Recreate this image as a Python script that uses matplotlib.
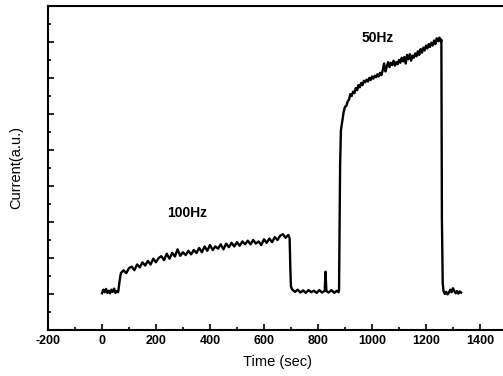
import matplotlib
matplotlib.use("Agg")
import matplotlib.pyplot as plt
from matplotlib.ticker import MultipleLocator

plt.rcParams["font.family"] = ["Liberation Sans", "DejaVu Sans"]
plt.rcParams["axes.unicode_minus"] = False

# time (sec) and current (a.u.)
time = [0, 5, 10, 15, 20, 25, 30, 35, 40, 45, 50, 55, 60,
        65, 70, 80, 90, 100, 110, 120, 130, 140, 150, 160, 170, 180, 190,
        200, 210, 220, 230, 240, 250, 260, 270, 280, 290, 300, 310, 320,
        330, 340, 350, 360, 370, 380, 390, 400, 410, 420, 430, 440, 450,
        460, 470, 480, 490, 500, 510, 520, 530, 540, 550, 560, 570, 580,
        590, 600, 610, 620, 630, 640, 650, 660, 670, 680, 690, 695,
        698, 700, 705, 715, 725, 735, 745, 755, 765, 775, 785, 795, 805,
        815, 825, 828, 831, 840, 850, 860, 870, 876,
        878, 880, 882, 885, 890, 895, 900, 905, 910, 915, 920, 925, 930,
        935, 940, 945, 950, 955, 960, 965, 970, 975, 980, 985, 990, 995,
        1000, 1005, 1010, 1015, 1020, 1025, 1030, 1035, 1040, 1045, 1050,
        1055, 1060, 1065, 1070, 1075, 1080, 1085, 1090, 1095, 1100, 1105,
        1110, 1115, 1120, 1125, 1130, 1135, 1140, 1145, 1150, 1155, 1160,
        1165, 1170, 1175, 1180, 1185, 1190, 1195, 1200, 1205, 1210, 1215,
        1220, 1225, 1230, 1235, 1240, 1245, 1250, 1255, 1257,
        1259, 1262, 1265, 1270, 1275, 1280, 1285, 1290, 1295, 1300, 1305,
        1310, 1315, 1320, 1325, 1330]
current = [1.02, 1.12, 1.05, 1.14, 1.03, 1.09, 1.02, 1.12, 1.06, 1.15, 1.03, 1.08, 1.05,
           1.35, 1.58, 1.66, 1.58, 1.72, 1.76, 1.66, 1.82, 1.74, 1.88, 1.79, 1.92, 1.82, 1.98,
           1.88, 2.00, 2.05, 1.94, 2.12, 1.98, 2.14, 2.04, 2.24, 2.06, 2.16, 2.08, 2.20,
           2.10, 2.22, 2.14, 2.28, 2.16, 2.32, 2.20, 2.36, 2.22, 2.32, 2.26, 2.38, 2.24,
           2.40, 2.30, 2.42, 2.32, 2.44, 2.34, 2.46, 2.38, 2.48, 2.38, 2.50, 2.40, 2.46,
           2.36, 2.52, 2.42, 2.54, 2.44, 2.58, 2.50, 2.62, 2.66, 2.56, 2.64, 2.55,
           1.60, 1.20, 1.12, 1.06, 1.12, 1.04, 1.10, 1.03, 1.11, 1.05, 1.09, 1.03, 1.11,
           1.04, 1.09, 1.62, 1.08, 1.04, 1.11, 1.03, 1.09, 1.05,
           1.10, 2.70, 4.60, 5.55, 5.80, 6.05, 6.20, 6.22, 6.35, 6.40, 6.55, 6.50, 6.62,
           6.58, 6.72, 6.66, 6.80, 6.74, 6.86, 6.80, 6.92, 6.88, 6.95, 6.90, 7.00, 6.94,
           7.04, 6.98, 7.06, 7.02, 7.10, 7.04, 7.14, 7.08, 7.22, 7.40, 7.18,
           7.32, 7.44, 7.30, 7.42, 7.36, 7.48, 7.34, 7.44, 7.38, 7.50, 7.42,
           7.56, 7.46, 7.58, 7.40, 7.64, 7.52, 7.66, 7.48, 7.62, 7.56, 7.68,
           7.60, 7.74, 7.64, 7.80, 7.70, 7.84, 7.76, 7.90, 7.82, 7.94, 7.86,
           7.98, 7.90, 8.04, 7.94, 8.10, 8.02, 8.12, 8.00, 8.06,
           3.10, 1.30, 1.08, 1.00, 1.06, 0.99, 1.04, 1.12, 1.05, 1.16, 1.08,
           1.02, 1.08, 1.01, 1.07, 1.04]

xticks = [-200, 0, 200, 400, 600, 800, 1000, 1200, 1400]

fig = plt.figure(figsize=(5.03, 3.76), dpi=100)
ax = fig.add_axes([0.0954, 0.1223, 0.9125, 0.862])
ax.plot(time, current, color="black", linewidth=1.7)

ax.set_xlim(-200, 1500)
ax.set_ylim(0, 9)
ax.set_xticks(xticks)
ax.xaxis.set_minor_locator(MultipleLocator(100))
ax.yaxis.set_major_locator(MultipleLocator(1))
ax.yaxis.set_minor_locator(MultipleLocator(0.5))
ax.set_yticklabels([])
ax.tick_params(which="both", direction="in", top=False, right=False, width=1.2)
ax.tick_params(which="major", length=4, labelsize=9)
ax.tick_params(which="minor", length=2)
for lab in ax.get_xticklabels():
    lab.set_fontweight("bold")
for s in ax.spines.values():
    s.set_linewidth(1.5)

ax.text(315, 3.26, "100Hz", ha="center", va="center", fontsize=10, fontweight="bold")
ax.text(1023, 8.12, "50Hz", ha="center", va="center", fontsize=10, fontweight="bold")

ax.set_xlabel("Time (sec)", fontsize=10.5, labelpad=6)
ax.set_ylabel("Current(a.u.)", fontsize=10.5, labelpad=14)

fig.savefig("out.png", dpi=100)
